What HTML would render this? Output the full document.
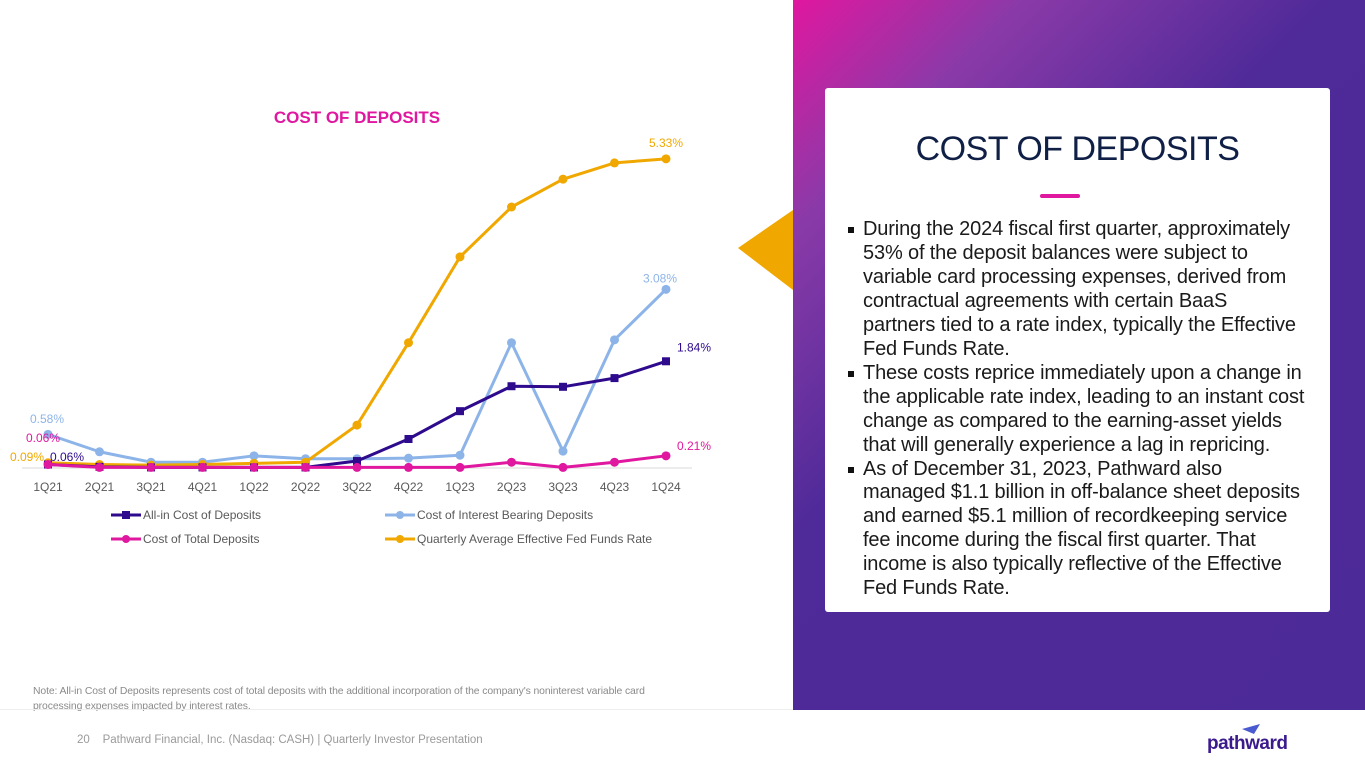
<!DOCTYPE html>
<html><head><meta charset="utf-8">
<style>
body{margin:0;width:1365px;height:768px;overflow:hidden;background:#fff;font-family:"Liberation Sans",sans-serif;position:relative}
.abs{position:absolute}
#panel{left:793px;top:0;width:572px;height:710px;background:linear-gradient(135deg,#e0179f 0%,#8a3aa8 18%,#4f2a99 42%,#4c2a98 100%)}
#card{left:825px;top:88px;width:505px;height:524px;background:#fff;border-radius:3px}
#card h2{position:absolute;left:0;width:100%;margin:0;top:42px;text-align:center;font-weight:normal;font-size:34px;color:#0f1f45;letter-spacing:-0.5px}
#bar{left:215px;top:106px;width:40px;height:4px;background:#e0179f;border-radius:2px}
#bul{left:23px;top:130px;width:480px;margin:0;padding:0;list-style:none;font-size:20px;line-height:23.95px;color:#1a1a1a;letter-spacing:-0.15px;white-space:nowrap}
#bul li{position:relative;padding-left:15px}
#bul li:before{content:"";position:absolute;left:0;top:9px;width:6px;height:6px;background:#111}
</style></head><body>
<div class="abs" id="panel"></div>
<svg class="abs" style="left:736px;top:208px" width="60" height="84"><polygon points="57,2 57,82 2,40" fill="#f0a800"/></svg>
<div class="abs" id="card">
<h2>COST OF DEPOSITS</h2>
<div class="abs" id="bar"></div>
<ul class="abs" id="bul">
<li>During the 2024 fiscal first quarter, approximately<br>53% of the deposit balances were subject to<br>variable card processing expenses, derived from<br>contractual agreements with certain BaaS<br>partners tied to a rate index, typically the Effective<br>Fed Funds Rate.</li>
<li>These costs reprice immediately upon a change in<br>the applicable rate index, leading to an instant cost<br>change as compared to the earning-asset yields<br>that will generally experience a lag in repricing.</li>
<li>As of December 31, 2023, Pathward also<br>managed $1.1 billion in off-balance sheet deposits<br>and earned $5.1 million of recordkeeping service<br>fee income during the fiscal first quarter. That<br>income is also typically reflective of the Effective<br>Fed Funds Rate.</li>
</ul></div>

<svg class="abs" id="chart" style="left:0;top:0" width="790" height="560">
<text x="357" y="123" text-anchor="middle" font-size="17" font-weight="bold" fill="#e0179f">COST OF DEPOSITS</text>
<line x1="22" y1="468" x2="692" y2="468" stroke="#d9d9d9"/>
<g id="g"></g>
</svg>

<div class="abs" style="left:33px;top:684px;font-size:10.4px;line-height:15px;color:#8a8a8a;width:630px;letter-spacing:-0.1px">Note: All-in Cost of Deposits represents cost of total deposits with the additional incorporation of the company's noninterest variable card processing expenses impacted by interest rates.</div>
<div class="abs" style="left:0;top:709px;width:793px;height:1px;background:#eee"></div>
<div class="abs" style="left:77px;top:734px;font-size:11.5px;color:#9a9a9a">20&nbsp;&nbsp;&nbsp;&nbsp;Pathward Financial, Inc. (Nasdaq: CASH) | Quarterly Investor Presentation</div>
<div class="abs" style="left:1207px;top:733px;font-size:19px;font-weight:bold;color:#3b1a8c;letter-spacing:-0.5px">pathward</div>
<svg class="abs" style="left:1240px;top:723px" width="22" height="12"><polygon points="2,6 20,1 14,11" fill="#4a5ad0"/></svg>

<script>
const categories=["1Q21","2Q21","3Q21","4Q21","1Q22","2Q22","3Q22","4Q22","1Q23","2Q23","3Q23","4Q23","1Q24"];
const allIn=[0.06,0.02,0.01,0.01,0.01,0.01,0.12,0.50,0.98,1.41,1.40,1.55,1.84];
const interestBearing=[0.58,0.28,0.10,0.10,0.21,0.16,0.16,0.17,0.22,2.16,0.29,2.21,3.08];
const totalDeposits=[0.06,0.01,0.01,0.01,0.01,0.01,0.01,0.01,0.01,0.10,0.01,0.10,0.21];
const fedFunds=[0.09,0.06,0.05,0.06,0.08,0.10,0.74,2.16,3.64,4.50,4.98,5.26,5.33];
const seriesNames=["All-in Cost of Deposits","Cost of Interest Bearing Deposits","Cost of Total Deposits","Quarterly Average Effective Fed Funds Rate"];

const NS="http://www.w3.org/2000/svg";
const g=document.getElementById('g');
const xS=i=>48+i*51.5;
const yS=v=>468-v*58;
function mk(t,a){const e=document.createElementNS(NS,t);for(const k in a)e.setAttribute(k,a[k]);g.appendChild(e);return e;}
categories.forEach((c,i)=>{const t=mk('text',{x:xS(i),y:491,'text-anchor':'middle','font-size':12,fill:'#595959'});t.textContent=c;

});
const defs=[[interestBearing,'#8db4e8','circle'],[fedFunds,'#f0a800','circle'],[allIn,'#2e0a8c','square'],[totalDeposits,'#e0179f','circle']];
defs.forEach(([d,col,m])=>{
 const p=mk('polyline',{points:d.map((v,i)=>xS(i)+','+yS(v)).join(' '),fill:'none',stroke:col,'stroke-width':3,'stroke-linejoin':'round'});
 
 
 d.forEach((v,i)=>{let e;
  if(m==='square')e=mk('rect',{x:xS(i)-4,y:yS(v)-4,width:8,height:8,fill:col});
  else e=mk('circle',{cx:xS(i),cy:yS(v),r:4.5,fill:col});
  
  });
});
function lab(txt,x,y,col,anchor){const t=mk('text',{x:x,y:y,'font-size':12,fill:col,'text-anchor':anchor||'start'});t.textContent=txt;

}
const n=categories.length-1;
lab(interestBearing[0].toFixed(2)+'%',30,423,'#8db4e8');
lab(totalDeposits[0].toFixed(2)+'%',26,442,'#e0179f');
lab(fedFunds[0].toFixed(2)+'%',10,461,'#f0a800');
lab(allIn[0].toFixed(2)+'%',50,461,'#2e0a8c');
lab(fedFunds[n].toFixed(2)+'%',xS(n),yS(fedFunds[n])-12,'#f0a800','middle');
lab(interestBearing[n].toFixed(2)+'%',xS(n)-6,yS(interestBearing[n])-7,'#8db4e8','middle');
lab(allIn[n].toFixed(2)+'%',xS(n)+11,yS(allIn[n])-10,'#2e0a8c');
lab(totalDeposits[n].toFixed(2)+'%',xS(n)+11,yS(totalDeposits[n])-6,'#e0179f');
const leg=[[seriesNames[0],'#2e0a8c','square',111,515],[seriesNames[1],'#8db4e8','circle',385,515],[seriesNames[2],'#e0179f','circle',111,539],[seriesNames[3],'#f0a800','circle',385,539]];
leg.forEach(([t,col,m,x,y])=>{
 const l=mk('line',{x1:x,y1:y,x2:x+30,y2:y,stroke:col,'stroke-width':3});
 
 
 if(m==='square')mk('rect',{x:x+11,y:y-4,width:8,height:8,fill:col});else mk('circle',{cx:x+15,cy:y,r:4,fill:col});
 const tx=mk('text',{x:x+32,y:y+4,'font-size':12,fill:'#595959'});tx.textContent=t;
 
 
});
</script>
</body></html>
